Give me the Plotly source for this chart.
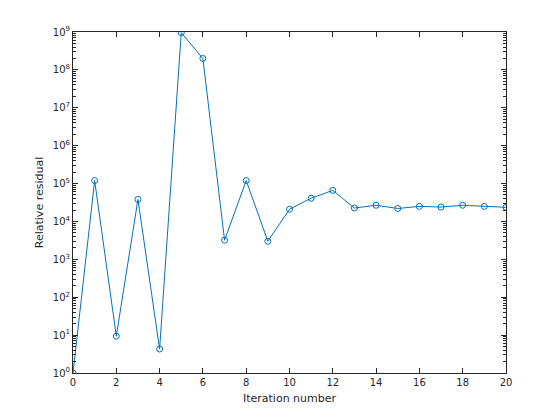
import plotly.graph_objects as go

iterations = list(range(21))
residuals = [1.0, 1.2e5, 9.4, 3.8e4, 4.3, 9.6e8, 2.0e8, 3.2e3, 1.2e5, 3.0e3,
             2.1e4, 4.1e4, 6.6e4, 2.26e4, 2.67e4, 2.2e4, 2.5e4, 2.4e4, 2.67e4, 2.5e4, 2.36e4]

x_ticks = list(range(0, 21, 2))
y_tickvals = [10 ** k for k in range(10)]
y_ticktext = ["10<sup>%d</sup>" % k for k in range(10)]

axis_color = "#262626"
font = dict(family="DejaVu Sans", size=10, color=axis_color)
title_font = dict(family="DejaVu Sans", size=11, color=axis_color)

fig = go.Figure()
fig.add_trace(go.Scatter(
    x=iterations, y=residuals, mode="lines+markers",
    line=dict(color="#0072BD", width=1),
    marker=dict(symbol="circle-open", size=6, color="#0072BD", line=dict(width=1, color="#0072BD")),
    showlegend=False,
))

fig.update_layout(
    width=560, height=420,
    margin=dict(l=65, r=62, t=24, b=55),
    paper_bgcolor="white", plot_bgcolor="white",
    font=font,
)
fig.update_xaxes(
    range=[0, 20], tickvals=x_ticks, ticks="inside", ticklen=5,
    showline=True, linecolor=axis_color, linewidth=1, mirror="ticks",
    tickcolor=axis_color, showgrid=False, zeroline=False,
    tickfont=font,
    title=dict(text="Iteration number", font=title_font, standoff=7),
)
fig.update_yaxes(
    type="log", range=[0, 9], tickvals=y_tickvals, ticktext=y_ticktext,
    ticks="inside", ticklen=5,
    showline=True, linecolor=axis_color, linewidth=1, mirror="ticks",
    tickcolor=axis_color, showgrid=False, zeroline=False,
    tickfont=font,
    minor=dict(ticks="inside", ticklen=3, tickcolor=axis_color, dtick="D1", showgrid=False),
    title=dict(text="Relative residual", font=title_font, standoff=6),
)
fig.write_html("out.html")
